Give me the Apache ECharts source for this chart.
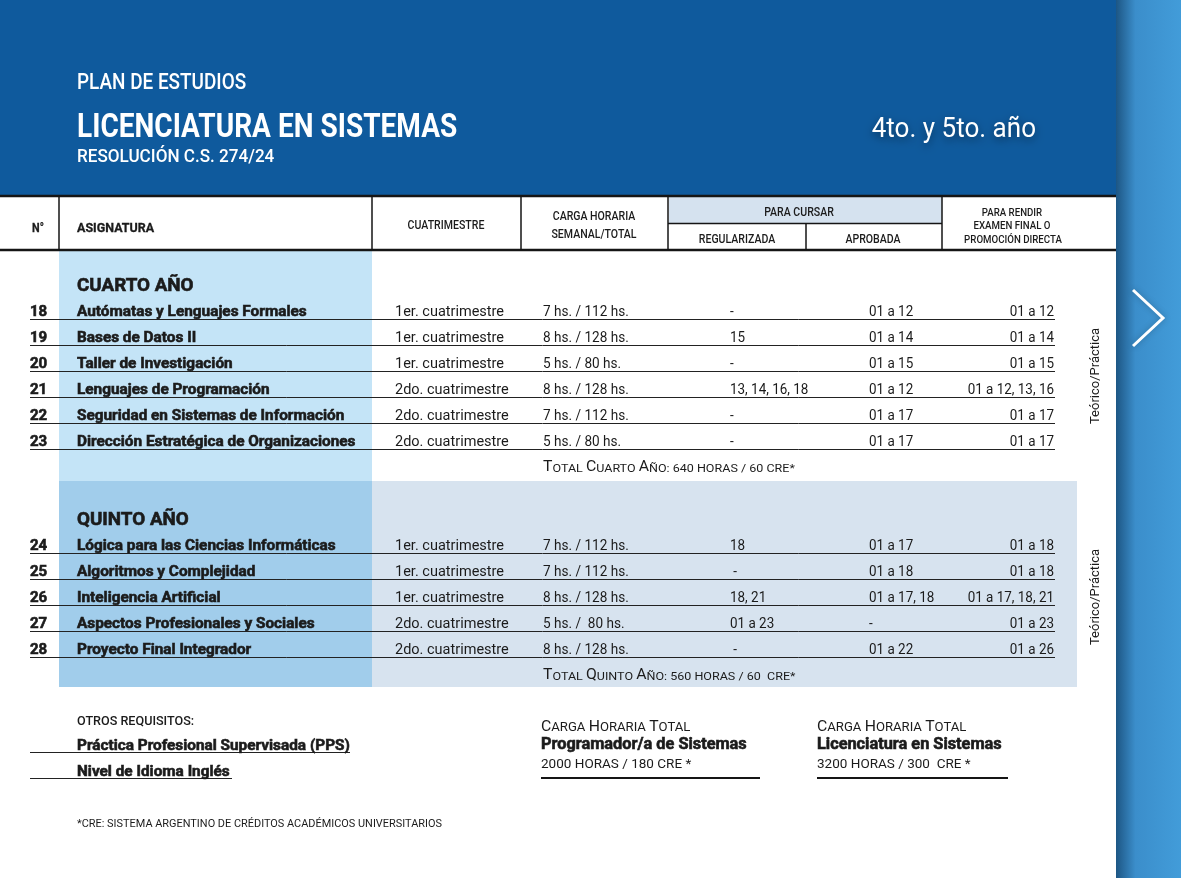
<!DOCTYPE html>
<html>
<head>
<meta charset="utf-8">
<title>Plan de estudios - Licenciatura en Sistemas</title>
<script src="https://cdn.jsdelivr.net/npm/echarts@6/dist/echarts.min.js"></script>
<style>
  html, body { margin: 0; padding: 0; background: #fff; }
  #plan { width: 1181px; height: 878px; }
</style>
</head>
<body>
<div id="plan"></div>
<script>
// cuarto año
const codes4 = ['18', '19', '20', '21', '22', '23'];
const subjects4 = [
  'Autómatas y Lenguajes Formales',
  'Bases de Datos II',
  'Taller de Investigación',
  'Lenguajes de Programación',
  'Seguridad en Sistemas de Información',
  'Dirección Estratégica de Organizaciones'
];
const terms4 = ['1er. cuatrimestre', '1er. cuatrimestre', '1er. cuatrimestre', '2do. cuatrimestre', '2do. cuatrimestre', '2do. cuatrimestre'];
const hours4 = ['7 hs. / 112 hs.', '8 hs. / 128 hs.', '5 hs. / 80 hs.', '8 hs. / 128 hs.', '7 hs. / 112 hs.', '5 hs. / 80 hs.'];
const regular4 = ['-', '15', '-', '13, 14, 16, 18', '-', '-'];
const approved4 = ['01 a 12', '01 a 14', '01 a 15', '01 a 12', '01 a 17', '01 a 17'];
const final4 = ['01 a 12', '01 a 14', '01 a 15', '01 a 12, 13, 16', '01 a 17', '01 a 17'];

// quinto año
const codes5 = ['24', '25', '26', '27', '28'];
const subjects5 = [
  'Lógica para las Ciencias Informáticas',
  'Algoritmos y Complejidad',
  'Inteligencia Artificial',
  'Aspectos Profesionales y Sociales',
  'Proyecto Final Integrador'
];
const terms5 = ['1er. cuatrimestre', '1er. cuatrimestre', '1er. cuatrimestre', '2do. cuatrimestre', '2do. cuatrimestre'];
const hours5 = ['7 hs. / 112 hs.', '7 hs. / 112 hs.', '8 hs. / 128 hs.', '5 hs. /  80 hs.', '8 hs. / 128 hs.'];
const regular5 = ['18', ' -', '18, 21', '01 a 23', ' -'];
const approved5 = ['01 a 17', '01 a 18', '01 a 17, 18', '-', '01 a 22'];
const final5 = ['01 a 18', '01 a 18', '01 a 17, 18, 21', '01 a 23', '01 a 26'];

const yearTitles = ['CUARTO AÑO', 'QUINTO AÑO'];
const yearNames = ['Cuarto', 'Quinto'];
const yearHours = [640, 560];
const yearCredits = [60, 60];
const modality = ['Teórico/Práctica', 'Teórico/Práctica'];

const otherReqs = ['Práctica Profesional Supervisada (PPS)', 'Nivel de Idioma Inglés'];
const programs = ['Programador/a de Sistemas', 'Licenciatura en Sistemas'];
const programHours = ['2000', '3200'];
const programCredits = ['180', '300 '];

const sections = [
  { codes: codes4, subjects: subjects4, terms: terms4, hours: hours4, regular: regular4, approved: approved4, final: final4 },
  { codes: codes5, subjects: subjects5, terms: terms5, hours: hours5, regular: regular5, approved: approved5, final: final5 }
];

// one slot per line: title, subjects, total, spacer
const rowData = [];
const sectionData = [];
let slot = 0;
sections.forEach(function (s, si) {
  const titleSlot = slot++;
  const first = slot;
  s.codes.forEach(function (c, i) { rowData.push([0, slot++, si, i]); });
  const last = slot - 1;
  const totalSlot = slot++;
  sectionData.push([0, titleSlot, si, totalSlot, first, last]);
  slot++;
});

const ink = '#1b1b1b';
const FONT = 'Roboto, "Noto Sans", sans-serif';
// column anchors (x, px)
const col = { line0: 30, code: 30, name: 77, term: 395, hours: 543, regular: 730, approved: 869, final: 1054, line1: 1055, modality: 1096 };

function txt(x, y, text, o) {
  o = o || {};
  const style = {
    text: text, fill: o.fill || ink, fontSize: o.size || 12, fontWeight: o.weight || 'normal',
    fontFamily: FONT, align: o.align || 'left', verticalAlign: 'middle'
  };
  if (o.rich) style.rich = o.rich;
  if (o.heavy) {
    // the original face is a black condensed cut: thicken the bold a bit
    style.stroke = o.fill || ink;
    style.lineWidth = o.heavy;
  }
  if (o.shadow) {
    style.textShadowColor = 'rgba(0,0,0,0.45)';
    style.textShadowBlur = 8;
    style.textShadowOffsetY = 3;
  }
  return { type: 'text', x: x, y: y, scaleX: o.sx || 1, rotation: o.rot || 0, z: 10, silent: true, style: style };
}

// small caps as rich text
function smallCaps(str, big, small) {
  let out = '';
  let buf = '';
  let mode = null;
  for (const ch of str) {
    const isBig = ch !== ch.toLowerCase();
    const m = isBig ? 'b' : 's';
    if (m !== mode && buf) { out += '{' + mode + '|' + buf + '}'; buf = ''; }
    mode = m;
    buf += ch.toUpperCase();
  }
  if (buf) out += '{' + mode + '|' + buf + '}';
  return {
    text: out,
    rich: {
      b: { fontSize: big, lineHeight: big, verticalAlign: 'bottom', fontFamily: FONT, fill: ink },
      s: { fontSize: small, lineHeight: big, verticalAlign: 'bottom', fontFamily: FONT, fill: ink }
    }
  };
}

function renderRow(params, api) {
  const s = sections[api.value(2)];
  const i = api.value(3);
  const pos = function (x) { return api.coord([x, api.value(1)]); };
  const y = pos(0)[1];
  const ty = y + 1.5;
  return {
    type: 'group',
    children: [
      { type: 'line', shape: { x1: pos(col.line0)[0], y1: y + 8.5, x2: pos(col.line1)[0], y2: y + 8.5 }, style: { stroke: '#222', lineWidth: 1 } },
      txt(pos(col.code)[0], ty, s.codes[i], { size: 15, weight: 'bold', heavy: 0.6 }),
      txt(pos(col.name)[0], ty, s.subjects[i], { size: 15.5, weight: 'bold', sx: 0.99, heavy: 0.6 }),
      txt(pos(col.term)[0], ty, s.terms[i], { size: 14.5 }),
      txt(pos(col.hours)[0], ty, s.hours[i], { size: 14, sx: 0.97 }),
      txt(pos(col.regular)[0], ty, s.regular[i], { size: 14, sx: 0.96 }),
      txt(pos(col.approved)[0], ty, s.approved[i], { size: 14, sx: 0.96 }),
      txt(pos(col.final)[0], ty, s.final[i], { size: 14, sx: 0.96, align: 'right' })
    ]
  };
}

function renderSection(params, api) {
  const si = api.value(2);
  const yTitle = api.coord([0, api.value(1)])[1];
  const yTotal = api.coord([0, api.value(3)])[1];
  const yMid = (api.coord([0, api.value(4)])[1] + api.coord([0, api.value(5)])[1]) / 2;
  const total = smallCaps('Total ' + yearNames[si] + ' Año: ' + yearHours[si] + ' horas / ' + yearCredits[si] + (si ? '  cre*' : ' cre*'), 14.5, 11.5);
  return {
    type: 'group',
    children: [
      txt(api.coord([col.name, 0])[0], yTitle + 1, yearTitles[si], { size: 19, weight: 'bold', sx: 0.99, heavy: 0.6 }),
      txt(api.coord([col.hours, 0])[0], yTotal + 1, total.text, { rich: total.rich, sx: 1.09 }),
      txt(api.coord([col.modality, 0])[0], yMid, modality[si], { size: 13, align: 'center', rot: Math.PI / 2 })
    ]
  };
}

// static page elements
const graphic = [];
function rect(x, y, w, h, fill, z) {
  graphic.push({ type: 'rect', shape: { x: x, y: y, width: w, height: h }, style: { fill: fill }, z: z || 0, silent: true });
}
function hline(x1, x2, y, w) {
  graphic.push({ type: 'line', shape: { x1: x1, y1: y, x2: x2, y2: y }, style: { stroke: '#151515', lineWidth: w }, z: 5, silent: true });
}
function vline(x, y1, y2) {
  graphic.push({ type: 'line', shape: { x1: x, y1: y1, x2: x, y2: y2 }, style: { stroke: '#151515', lineWidth: 1.5 }, z: 5, silent: true });
}

rect(0, 0, 1116, 195, '#0f5a9d');
rect(1116, 0, 65, 878, {
  type: 'linear', x: 0, y: 0, x2: 1, y2: 0,
  colorStops: [{ offset: 0, color: '#1d5684' }, { offset: 0.3, color: '#3b8ecb' }, { offset: 1, color: '#429cd9' }]
});
rect(59, 250, 313, 231, '#c4e4f7');
rect(59, 481, 1018, 206, '#d7e3ef');
rect(59, 481, 313, 206, '#a1cdeb');
rect(669, 197, 273, 26, '#d5e2ef');

hline(0, 1116, 196, 2.5);
hline(0, 1116, 250, 2.5);
hline(668, 942, 223.5, 1.5);
[59, 372, 521, 668, 942].forEach(function (x) { vline(x, 197, 250); });
vline(806, 223, 250);

graphic.push({
  type: 'polyline', shape: { points: [[1133, 290], [1163, 318], [1133, 346]] },
  style: { stroke: '#fff', lineWidth: 3, fill: null, shadowColor: 'rgba(0,0,0,0.25)', shadowBlur: 6 }, z: 10, silent: true
});

const white = '#ffffff';
graphic.push(
  txt(77, 83, 'PLAN DE ESTUDIOS', { size: 22, weight: 500, sx: 0.86, fill: white }),
  txt(77, 128.5, 'LICENCIATURA EN SISTEMAS', { size: 33, weight: 'bold', sx: 0.85, fill: white }),
  txt(77, 157.5, 'RESOLUCIÓN C.S. 274/24', { size: 19, weight: 500, sx: 0.9, fill: white }),
  txt(1036, 130, '4to. y 5to. año', { size: 28, sx: 0.93, fill: white, align: 'right', shadow: true }),

  txt(38, 229, 'N°', { size: 12, weight: 'bold', align: 'center', sx: 0.9, heavy: 0.3 }),
  txt(77, 229, 'ASIGNATURA', { size: 13, weight: 'bold', sx: 0.96, heavy: 0.3 }),
  txt(446, 226, 'CUATRIMESTRE', { size: 12, weight: 500, sx: 0.88, align: 'center' }),
  txt(594, 217, 'CARGA HORARIA', { size: 12, weight: 500, sx: 0.88, align: 'center' }),
  txt(594, 235, 'SEMANAL/TOTAL', { size: 12, weight: 500, sx: 0.88, align: 'center' }),
  txt(799, 212.5, 'PARA CURSAR', { size: 12, weight: 500, sx: 0.88, align: 'center' }),
  txt(737, 240, 'REGULARIZADA', { size: 12, weight: 500, sx: 0.88, align: 'center' }),
  txt(873, 240, 'APROBADA', { size: 12, weight: 500, sx: 0.88, align: 'center' }),
  txt(1012, 213, 'PARA RENDIR', { size: 11, weight: 500, sx: 0.88, align: 'center' }),
  txt(1012, 226, 'EXAMEN FINAL O', { size: 11, weight: 500, sx: 0.88, align: 'center' }),
  txt(1013, 240, 'PROMOCIÓN DIRECTA', { size: 11, weight: 500, sx: 0.88, align: 'center' }),

  txt(77, 721.5, 'OTROS REQUISITOS:', { size: 12, weight: 500, sx: 1.05 }),
  txt(77, 824, '*CRE: SISTEMA ARGENTINO DE CRÉDITOS ACADÉMICOS UNIVERSITARIOS', { size: 10.5, sx: 1.04 })
);

const reqEnds = [350, 232];
otherReqs.forEach(function (r, i) {
  const y = 745 + i * 26;
  graphic.push(txt(77, y + 1, r, { size: 15.5, weight: 'bold', sx: 0.99, heavy: 0.6 }));
  graphic.push({ type: 'line', shape: { x1: 30, y1: y + 7.5, x2: reqEnds[i], y2: y + 7.5 }, style: { stroke: '#222', lineWidth: 1 }, z: 5, silent: true });
});

const progX = [541, 817];
const progW = [219, 191];
programs.forEach(function (p, i) {
  const head = smallCaps('Carga Horaria Total', 15, 12.5);
  graphic.push(txt(progX[i], 727, head.text, { rich: head.rich, sx: 1.05 }));
  graphic.push(txt(progX[i], 745, p, { size: 16, weight: 'bold', sx: 1.02, heavy: 0.6 }));
  graphic.push(txt(progX[i], 764.5, programHours[i] + ' HORAS / ' + programCredits[i] + ' CRE *', { size: 13, sx: 1.04 }));
  graphic.push({ type: 'line', shape: { x1: progX[i], y1: 778, x2: progX[i] + progW[i], y2: 778 }, style: { stroke: '#151515', lineWidth: 2 }, z: 5, silent: true });
});

const chart = echarts.init(document.getElementById('plan'));
chart.setOption({
  animation: false,
  backgroundColor: '#ffffff',
  grid: { left: 0, right: 0, top: 272, bottom: 190 },
  xAxis: { type: 'value', min: 0, max: 1181, show: false },
  yAxis: { type: 'value', inverse: true, min: -0.5, max: slot - 1.5, show: false },
  graphic: graphic,
  series: [
    { type: 'custom', renderItem: renderRow, data: rowData, encode: { x: 0, y: 1 }, silent: true, z: 3 },
    { type: 'custom', renderItem: renderSection, data: sectionData, encode: { x: 0, y: 1 }, silent: true, z: 3 }
  ]
});
</script>
</body>
</html>
